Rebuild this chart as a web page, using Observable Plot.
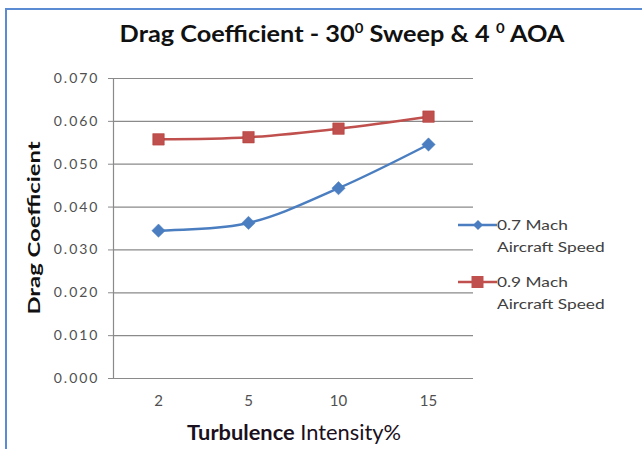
<!DOCTYPE html>
<html>
<head>
<meta charset="utf-8">
<script src="https://cdn.jsdelivr.net/npm/d3@7"></script>
<script src="https://cdn.jsdelivr.net/npm/@observablehq/plot@0.6"></script>
<style>
  html, body { margin: 0; padding: 0; background: #fff; }
  body { width: 642px; height: 449px; position: relative; overflow: hidden; font-family: Lato, "Open Sans", sans-serif; }
  #border { position: absolute; left: 5px; top: 8px; right: -10px; bottom: -10px; border-left: 2px solid #5b8bd3; border-top: 2px solid #5b8bd3; }
  #chart { position: absolute; left: 0; top: 0; }
  #title { position: absolute; left: 342px; top: 33px; transform: translate(-50%, -50%) scaleX(1.15); font-weight: bold; font-size: 22px; color: #111; white-space: nowrap; }
  #title sup { font-size: 13px; vertical-align: 9px; line-height: 0; }
  #ylabel { position: absolute; left: 33px; top: 228px; transform: translate(-50%, -50%) rotate(-90deg) scaleX(1.4); font-weight: bold; font-size: 17px; color: #111; white-space: nowrap; }
  #xlabel { position: absolute; left: 294px; top: 431px; transform: translate(-50%, -50%) scaleX(1.04); font-size: 21px; color: #1a1020; white-space: nowrap; }
  #xlabel b { font-weight: bold; }
  .legend { position: absolute; left: 458px; font-size: 13.5px; color: #404040; line-height: 22px; }
  .legend svg { position: absolute; left: 0; top: 3px; }
  .legend span { display: block; margin-left: 39px; transform: scaleX(1.28); transform-origin: left center; white-space: nowrap; }
</style>
</head>
<body>
<div id="border"></div>
<div id="chart"></div>
<div id="title">Drag Coefficient - 30<sup>0</sup> Sweep &amp; 4 <sup>0</sup> AOA</div>
<div id="ylabel">Drag Coefficient</div>
<div id="xlabel"><b>Turbulence</b> Intensity%</div>
<div class="legend" id="leg1" style="top:214px"></div>
<div class="legend" id="leg2" style="top:271px"></div>
<script>
// Turbulence intensity (%) categories on the x axis
const turbulence = [2, 5, 10, 15];
// Drag coefficient at 0.7 Mach and 0.9 Mach
const mach07 = [0.0345, 0.0363, 0.0444, 0.0546];
const mach09 = [0.0558, 0.0563, 0.0583, 0.0611];
const yTicks = [0, 0.01, 0.02, 0.03, 0.04, 0.05, 0.06, 0.07];
const seriesNames = ["0.7 Mach Aircraft Speed", "0.9 Mach Aircraft Speed"];

const blue = "#4a7ec0";
const red = "#c0504d";

const rows = [
  ...turbulence.map((t, i) => ({t, v: mach07[i], s: seriesNames[0]})),
  ...turbulence.map((t, i) => ({t, v: mach09[i], s: seriesNames[1]}))
];

const chart = Plot.plot({
  width: 642,
  height: 449,
  marginLeft: 113,
  marginRight: 169,
  marginTop: 78,
  marginBottom: 71,
  style: {fontFamily: "Lato, 'Open Sans', sans-serif", fontSize: "14px", color: "#505050", background: "transparent"},
  x: {type: "point", domain: turbulence, padding: 0.5},
  y: {domain: [0, 0.07]},
  marks: [
    Plot.ruleY(yTicks, {stroke: "#8a8a8a", strokeWidth: 1.2, strokeOpacity: 1}),
    Plot.frame({anchor: "left", stroke: "#8a8a8a", strokeWidth: 1.2, strokeOpacity: 1}),
    Plot.axisY(yTicks, {tickFormat: d3.format(".3f"), tickSize: 5, tickPadding: 9, stroke: "#8a8a8a", label: null}),
    Plot.axisX({tickSize: 0, tickPadding: 17, fontSize: 15, label: null}),
    Plot.line(rows.filter(d => d.s === seriesNames[1]), {x: "t", y: "v", stroke: red, strokeWidth: 2.5, curve: "catmull-rom"}),
    Plot.line(rows.filter(d => d.s === seriesNames[0]), {x: "t", y: "v", stroke: blue, strokeWidth: 2.5, curve: "catmull-rom"}),
    Plot.dot(rows.filter(d => d.s === seriesNames[1]), {x: "t", y: "v", symbol: "square", r: 6.5, fill: red, stroke: "#b03a38", strokeWidth: 0.5}),
    Plot.dot(rows.filter(d => d.s === seriesNames[0]), {x: "t", y: "v", symbol: "diamond2", r: 6, fill: blue, stroke: blue, strokeWidth: 0.5})
  ]
});
// widen the y tick labels a little
d3.select(chart).selectAll('g[aria-label="y-axis tick label"] text').style("letter-spacing", "2px");
document.getElementById("chart").append(chart);

// Legend entries: line sample with marker plus wrapped label
function legendEntry(id, color, marker, name) {
  const el = document.getElementById(id);
  const words = name.split(" ");
  const svg = `<svg width="39" height="16"><line x1="0" x2="39" y1="8" y2="8" stroke="${color}" stroke-width="2.5"/>${
    marker === "square"
      ? `<rect x="13.5" y="2" width="12" height="12" fill="${color}"/>`
      : `<path d="M20 3 L25 8 L20 13 L15 8 Z" fill="${color}"/>`}</svg>`;
  el.innerHTML = svg + `<span>${words.slice(0, 2).join(" ")}</span><span>${words.slice(2).join(" ")}</span>`;
}
legendEntry("leg1", blue, "diamond", seriesNames[0]);
legendEntry("leg2", red, "square", seriesNames[1]);
</script>
</body>
</html>
